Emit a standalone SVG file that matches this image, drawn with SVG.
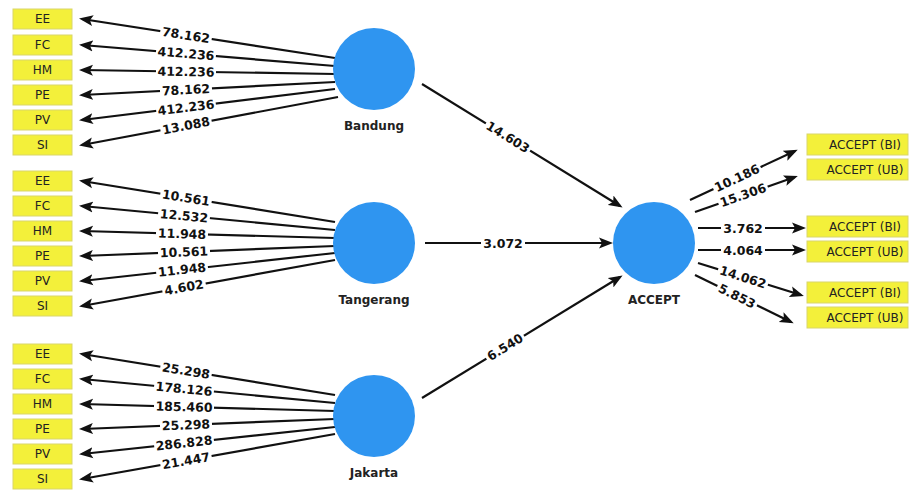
<svg xmlns="http://www.w3.org/2000/svg" width="910" height="490" viewBox="0 0 910 490">
<style>
.box{fill:#f3f03a;stroke:#d9d66a;stroke-width:1}
.bt{font-family:"DejaVu Sans",sans-serif;font-size:12px;fill:#222;text-anchor:middle;dominant-baseline:central}
.c{fill:#2f95f0}
.nl{font-family:"DejaVu Sans",sans-serif;font-size:12px;font-weight:bold;fill:#222;text-anchor:middle}
.ln{stroke:#111;stroke-width:2.2;fill:none;marker-end:url(#ah)}
.lb{font-family:"DejaVu Sans",sans-serif;font-size:12.5px;font-weight:bold;fill:#111;text-anchor:middle;dominant-baseline:central}
.bg{fill:#fff}
</style>
<defs>
<marker id="ah" markerUnits="userSpaceOnUse" markerWidth="14" markerHeight="12" viewBox="0 0 14 12" refX="11" refY="6" orient="auto">
<path d="M0,0.5 L14,6 L0,11.5 L3,6 z" fill="#111"/>
</marker>
</defs>
<rect width="910" height="490" fill="#fff"/>

<g id="connectors">
<line class="ln" x1="335" y1="58" x2="82" y2="19"/>
<line class="ln" x1="335" y1="66" x2="82" y2="45"/>
<line class="ln" x1="335" y1="74" x2="82" y2="70"/>
<line class="ln" x1="335" y1="82" x2="82" y2="95"/>
<line class="ln" x1="335" y1="89" x2="82" y2="120"/>
<line class="ln" x1="338" y1="97" x2="82" y2="145"/>
<line class="ln" x1="335" y1="222" x2="82" y2="181"/>
<line class="ln" x1="335" y1="230" x2="82" y2="206"/>
<line class="ln" x1="335" y1="238" x2="82" y2="231"/>
<line class="ln" x1="335" y1="246" x2="82" y2="256"/>
<line class="ln" x1="335" y1="253" x2="82" y2="281"/>
<line class="ln" x1="335" y1="260" x2="82" y2="306"/>
<line class="ln" x1="335" y1="395" x2="82" y2="354"/>
<line class="ln" x1="335" y1="403" x2="82" y2="379"/>
<line class="ln" x1="335" y1="411" x2="82" y2="404"/>
<line class="ln" x1="335" y1="419" x2="82" y2="429"/>
<line class="ln" x1="335" y1="427" x2="82" y2="454"/>
<line class="ln" x1="335" y1="434" x2="82" y2="479"/>
<line class="ln" x1="422" y1="84" x2="620" y2="206"/>
<line class="ln" x1="425" y1="243" x2="610" y2="243"/>
<line class="ln" x1="422" y1="398" x2="620" y2="277"/>
<line class="ln" x1="690" y1="200" x2="795" y2="151"/>
<line class="ln" x1="695" y1="212" x2="795" y2="177"/>
<line class="ln" x1="698" y1="228" x2="803" y2="228"/>
<line class="ln" x1="698" y1="250" x2="803" y2="250"/>
<line class="ln" x1="698" y1="263" x2="801" y2="295"/>
<line class="ln" x1="695" y1="275" x2="791" y2="322"/>

<g transform="translate(186,35) rotate(8.8)"><rect class="bg" x="-26" y="-7" width="52" height="14"/><text class="lb">78.162</text></g>
<g transform="translate(186,53.5) rotate(4.7)"><rect class="bg" x="-30" y="-7" width="60" height="14"/><text class="lb">412.236</text></g>
<g transform="translate(186,71.6) rotate(0.9)"><rect class="bg" x="-30" y="-6.5" width="60" height="13"/><text class="lb">412.236</text></g>
<g transform="translate(186,89.7) rotate(-2.9)"><rect class="bg" x="-26" y="-6.5" width="52" height="13"/><text class="lb">78.162</text></g>
<g transform="translate(186,107.4) rotate(-7)"><rect class="bg" x="-30" y="-7" width="60" height="14"/><text class="lb">412.236</text></g>
<g transform="translate(186,125.5) rotate(-10.7)"><rect class="bg" x="-26" y="-7" width="52" height="14"/><text class="lb">13.088</text></g>

<g transform="translate(186,197.7) rotate(9.2)"><rect class="bg" x="-26" y="-7" width="52" height="14"/><text class="lb">10.561</text></g>
<g transform="translate(184,215.8) rotate(5.4)"><rect class="bg" x="-26" y="-7" width="52" height="14"/><text class="lb">12.532</text></g>
<g transform="translate(182,233.8) rotate(1.6)"><rect class="bg" x="-26" y="-6.5" width="52" height="13"/><text class="lb">11.948</text></g>
<g transform="translate(184,251.9) rotate(-2.3)"><rect class="bg" x="-26" y="-6.5" width="52" height="13"/><text class="lb">10.561</text></g>
<g transform="translate(182,269.6) rotate(-6.3)"><rect class="bg" x="-26" y="-7" width="52" height="14"/><text class="lb">11.948</text></g>
<g transform="translate(184,287.3) rotate(-10.3)"><rect class="bg" x="-22" y="-7" width="44" height="14"/><text class="lb">4.602</text></g>

<g transform="translate(186,370.7) rotate(9.2)"><rect class="bg" x="-26" y="-7" width="52" height="14"/><text class="lb">25.298</text></g>
<g transform="translate(184,388.8) rotate(5.4)"><rect class="bg" x="-30" y="-7" width="60" height="14"/><text class="lb">178.126</text></g>
<g transform="translate(184,406.8) rotate(1.6)"><rect class="bg" x="-30" y="-6.5" width="60" height="13"/><text class="lb">185.460</text></g>
<g transform="translate(186,424.9) rotate(-2.3)"><rect class="bg" x="-26" y="-6.5" width="52" height="13"/><text class="lb">25.298</text></g>
<g transform="translate(184,443) rotate(-6.1)"><rect class="bg" x="-30" y="-7" width="60" height="14"/><text class="lb">286.828</text></g>
<g transform="translate(186,460.7) rotate(-10.1)"><rect class="bg" x="-26" y="-7" width="52" height="14"/><text class="lb">21.447</text></g>

<g transform="translate(508,137) rotate(31.7)"><rect class="bg" x="-26" y="-7" width="52" height="14"/><text class="lb">14.603</text></g>
<g transform="translate(503,243)"><rect class="bg" x="-22" y="-7" width="44" height="14"/><text class="lb">3.072</text></g>
<g transform="translate(505,347) rotate(-31.5)"><rect class="bg" x="-22" y="-7" width="44" height="14"/><text class="lb">6.540</text></g>

<g transform="translate(737,178) rotate(-25)"><rect class="bg" x="-26" y="-7" width="52" height="14"/><text class="lb">10.186</text></g>
<g transform="translate(743,195) rotate(-19.1)"><rect class="bg" x="-26" y="-7" width="52" height="14"/><text class="lb">15.306</text></g>
<g transform="translate(743,228)"><rect class="bg" x="-22" y="-7" width="44" height="14"/><text class="lb">3.762</text></g>
<g transform="translate(743,250)"><rect class="bg" x="-22" y="-7" width="44" height="14"/><text class="lb">4.064</text></g>
<g transform="translate(743,277) rotate(17.4)"><rect class="bg" x="-26" y="-7" width="52" height="14"/><text class="lb">14.062</text></g>
<g transform="translate(737,296) rotate(26.3)"><rect class="bg" x="-22" y="-7" width="44" height="14"/><text class="lb">5.853</text></g>
</g>

<g id="Bandung"><circle class="c" cx="374" cy="69" r="41"/><text class="nl" x="374" y="130">Bandung</text></g>
<g id="Tangerang"><circle class="c" cx="374" cy="243" r="41"/><text class="nl" x="374" y="304">Tangerang</text></g>
<g id="Jakarta"><circle class="c" cx="374" cy="416" r="41"/><text class="nl" x="374" y="477">Jakarta</text></g>
<g id="ACCEPT"><circle class="c" cx="654" cy="243" r="41"/><text class="nl" x="654" y="304">ACCEPT</text></g>

<g id="B_EE"><rect class="box" x="13" y="9" width="59" height="20"/><text class="bt" x="42.5" y="19">EE</text></g>
<g id="B_FC"><rect class="box" x="13" y="35" width="59" height="20"/><text class="bt" x="42.5" y="45">FC</text></g>
<g id="B_HM"><rect class="box" x="13" y="60" width="59" height="20"/><text class="bt" x="42.5" y="70">HM</text></g>
<g id="B_PE"><rect class="box" x="13" y="85" width="59" height="20"/><text class="bt" x="42.5" y="95">PE</text></g>
<g id="B_PV"><rect class="box" x="13" y="110" width="59" height="20"/><text class="bt" x="42.5" y="120">PV</text></g>
<g id="B_SI"><rect class="box" x="13" y="135" width="59" height="20"/><text class="bt" x="42.5" y="145">SI</text></g>

<g id="T_EE"><rect class="box" x="13" y="171" width="59" height="20"/><text class="bt" x="42.5" y="181">EE</text></g>
<g id="T_FC"><rect class="box" x="13" y="196" width="59" height="20"/><text class="bt" x="42.5" y="206">FC</text></g>
<g id="T_HM"><rect class="box" x="13" y="221" width="59" height="20"/><text class="bt" x="42.5" y="231">HM</text></g>
<g id="T_PE"><rect class="box" x="13" y="246" width="59" height="20"/><text class="bt" x="42.5" y="256">PE</text></g>
<g id="T_PV"><rect class="box" x="13" y="271" width="59" height="20"/><text class="bt" x="42.5" y="281">PV</text></g>
<g id="T_SI"><rect class="box" x="13" y="296" width="59" height="20"/><text class="bt" x="42.5" y="306">SI</text></g>

<g id="J_EE"><rect class="box" x="13" y="344" width="59" height="20"/><text class="bt" x="42.5" y="354">EE</text></g>
<g id="J_FC"><rect class="box" x="13" y="369" width="59" height="20"/><text class="bt" x="42.5" y="379">FC</text></g>
<g id="J_HM"><rect class="box" x="13" y="394" width="59" height="20"/><text class="bt" x="42.5" y="404">HM</text></g>
<g id="J_PE"><rect class="box" x="13" y="419" width="59" height="20"/><text class="bt" x="42.5" y="429">PE</text></g>
<g id="J_PV"><rect class="box" x="13" y="444" width="59" height="20"/><text class="bt" x="42.5" y="454">PV</text></g>
<g id="J_SI"><rect class="box" x="13" y="469" width="59" height="20"/><text class="bt" x="42.5" y="479">SI</text></g>

<g id="A_BI1"><rect class="box" x="807" y="134" width="101" height="21"/><text class="bt" x="865" y="144.5">ACCEPT (BI)</text></g>
<g id="A_UB1"><rect class="box" x="807" y="159" width="101" height="21"/><text class="bt" x="865" y="169.5">ACCEPT (UB)</text></g>
<g id="A_BI2"><rect class="box" x="807" y="216" width="101" height="21"/><text class="bt" x="865" y="226.5">ACCEPT (BI)</text></g>
<g id="A_UB2"><rect class="box" x="807" y="241" width="101" height="21"/><text class="bt" x="865" y="251.5">ACCEPT (UB)</text></g>
<g id="A_BI3"><rect class="box" x="807" y="282" width="101" height="21"/><text class="bt" x="865" y="292.5">ACCEPT (BI)</text></g>
<g id="A_UB3"><rect class="box" x="807" y="307" width="101" height="21"/><text class="bt" x="865" y="317.5">ACCEPT (UB)</text></g>
</svg>
